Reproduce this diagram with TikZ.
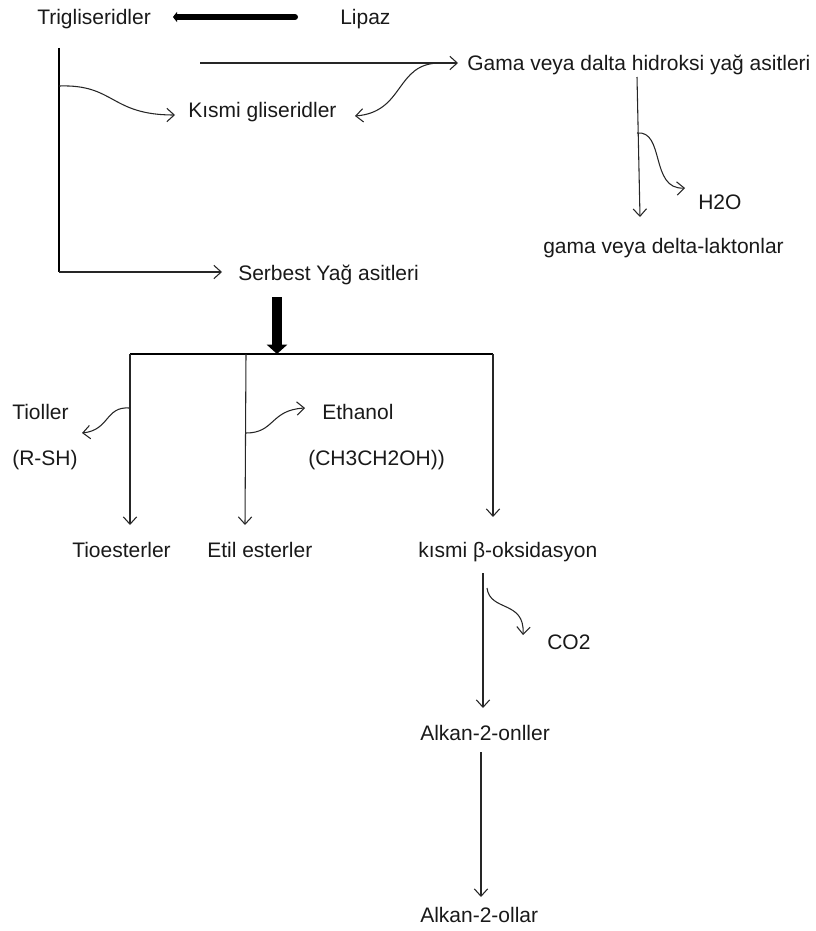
\documentclass[tikz,border=0pt]{standalone}
\usepackage{fontspec}
\setmainfont{Liberation Sans}
\usetikzlibrary{arrows.meta}
\begin{document}
\begin{tikzpicture}[x=0.75pt,y=-0.75pt,
  lbl/.style={anchor=base west,inner sep=0pt,font=\fontsize{15.75}{19}\selectfont,text=black!90},
  conn/.style={draw=black!85,line width=0.8pt,-{Straight Barb[length=5.5pt,width=10pt,line width=0.8pt]}},
  plain/.style={draw=black!85,line width=0.8pt},
  thickleft/.style={draw=black,line width=4.5pt,line cap=round,-{Triangle[length=3pt,width=7.5pt]}},
  thickdown/.style={draw=black,line width=7.5pt,-{Triangle[length=7pt,width=15pt]}}]
\useasboundingbox (0,0) rectangle (815,931);
% texts
\node[lbl] (trig) at (37,25) {Trigliseridler};
\node[lbl] (lipaz) at (340,25) {Lipaz};
\node[lbl] (gama) at (467,70) {Gama veya dalta hidroksi yağ asitleri};
\node[lbl] (kismi) at (188,117) {Kısmi gliseridler};
\node[lbl] (h2o) at (698,209) {H2O};
\node[lbl] (lakton) at (543,253) {gama veya delta-laktonlar};
\node[lbl] (serbest) at (238,280) {Serbest Yağ asitleri};
\node[lbl] (tioller) at (12,419) {Tioller};
\node[lbl] (rsh) at (12,465) {(R-SH)};
\node[lbl] (ethanol) at (322,419) {Ethanol};
\node[lbl] (ch3) at (308,465) {(CH3CH2OH))};
\node[lbl] (tioest) at (72,557) {Tioesterler};
\node[lbl] (etil) at (207,557) {Etil esterler};
\node[lbl] (beta) at (418,557) {kısmi β-oksidasyon};
\node[lbl] (co2) at (547,649) {CO2};
\node[lbl] (onller) at (420,740) {Alkan-2-onller};
\node[lbl] (ollar) at (420,922) {Alkan-2-ollar};
% coordinates
\coordinate (lipS) at (295,17);
\coordinate (trigE) at (173,17);
\coordinate (vTop) at (59,48);
\coordinate (vBot) at (59,272);
\coordinate (serW) at (222,272);
\coordinate (hS) at (200,63);
\coordinate (gamaW) at (458,63);
\coordinate (c1s) at (59,86);
\coordinate (kismiW) at (175,115);
\coordinate (c2s) at (440,63);
\coordinate (kismiE) at (355,116);
\coordinate (gS) at (637,77);
\coordinate (laktN) at (640,217);
\coordinate (c3s) at (637,133);
\coordinate (h2oW) at (685,188);
\coordinate (serS) at (277,297);
\coordinate (barM) at (277,354);
\coordinate (barL) at (130,354);
\coordinate (barC) at (246,354);
\coordinate (barR) at (493,354);
\coordinate (tioN) at (130,525);
\coordinate (etilN) at (245,525);
\coordinate (betaN) at (493,517);
\coordinate (c4s) at (130,408);
\coordinate (tiollerE) at (82,433);
\coordinate (c5s) at (246,433);
\coordinate (ethW) at (305,408);
\coordinate (betaS) at (483,573);
\coordinate (onN) at (483,708);
\coordinate (c6s) at (487,588);
\coordinate (co2W) at (523,635);
\coordinate (onS) at (481,752);
\coordinate (olN) at (481,897);
% connectors
\draw[thickleft] (lipS) -- (trigE);
\draw[draw=black,line width=1.5pt] (vTop) -- (vBot);
\draw[conn] (vBot) -- (serW);
\draw[conn] (hS) -- (gamaW);
\draw[conn] (c1s) .. controls (115,84) and (110,115) .. (kismiW);
\draw[conn] (c2s) .. controls (395,63) and (405,112) .. (kismiE);
\draw[conn] (gS) -- (laktN);
\draw[conn] (c3s) .. controls (665,130) and (650,190) .. (h2oW);
\draw[thickdown] (serS) -- (barM);
\draw[draw=black,line width=1.5pt] (barL) -- (barR);
\draw[conn] (barL) -- (tioN);
\draw[conn] (barC) -- (etilN);
\draw[conn] (barR) -- (betaN);
\draw[conn] (c4s) .. controls (105,406) and (110,430) .. (tiollerE);
\draw[conn] (c5s) .. controls (275,433) and (270,410) .. (ethW);
\draw[conn] (betaS) -- (onN);
\draw[conn] (c6s) .. controls (490,612) and (525,600) .. (co2W);
\draw[conn] (onS) -- (olN);
\end{tikzpicture}
\end{document}
